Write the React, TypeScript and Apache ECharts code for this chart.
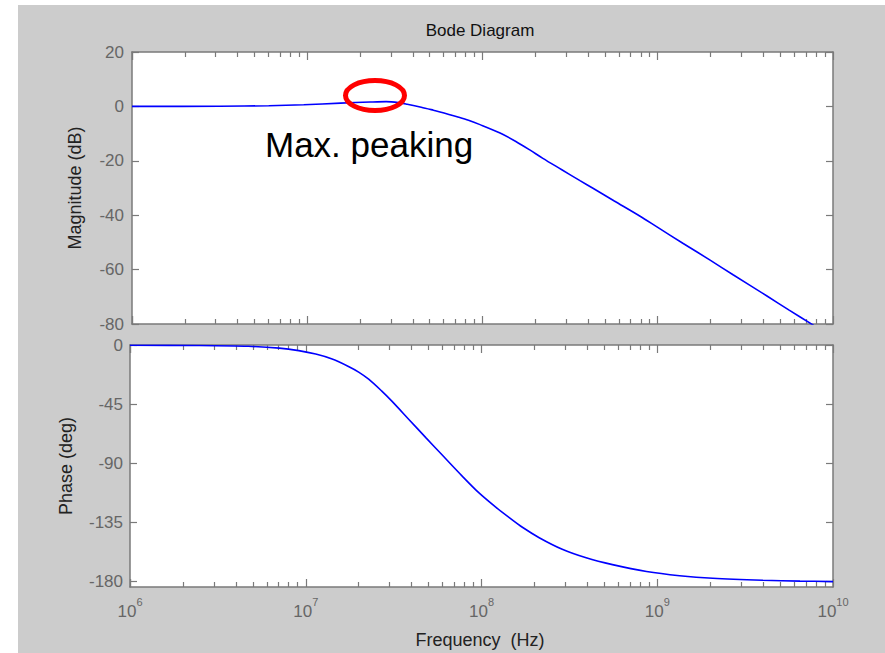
import React, { useEffect, useRef } from 'react';
import * as echarts from 'echarts';

// Magnitude (dB) vs frequency (Hz)
const magFreq = [
  1e6, 3.16e6, 6.03e6, 9.55e6, 1.55e7, 2.29e7, 2.82e7, 3.31e7, 3.72e7, 4.47e7,
  5.25e7, 5.96e7, 7.16e7, 8.32e7, 9.68e7, 1.26e8, 1.55e8, 1.87e8, 2.21e8, 2.82e8,
  3.6e8, 4.27e8, 5.62e8, 7.93e8, 1e9, 1.39e9, 2.0e9, 2.69e9, 4.2e9, 5.62e9, 7.76e9,
];
const magDb = [
  0, 0.05, 0.25, 0.6, 1.2, 1.6, 1.75, 1.4, 0.8, -0.3,
  -1.4, -2.3, -3.8, -5.1, -6.7, -9.8, -12.9, -16.1, -19.1, -23.2,
  -27.3, -30.1, -34.7, -40.4, -44.5, -50.3, -56.6, -61.9, -69.7, -74.9, -80.5,
];

// Phase (deg) vs frequency (Hz)
const phaseFreq = [
  1e6, 2.45e6, 4.71e6, 7.08e6, 9.12e6, 1.14e7, 1.4e7, 1.75e7, 2.0e7, 2.28e7,
  2.7e7, 3.08e7, 3.85e7, 4.82e7, 5.96e7, 7.74e7, 9.68e7, 1.21e8, 1.44e8, 1.7e8,
  2.13e8, 2.88e8, 3.94e8, 5.56e8, 8.69e8, 1.34e9, 2.07e9, 3.98e9, 6.49e9, 1e10,
];
const phaseDeg = [
  -0.2, -0.4, -1.0, -2.4, -4.3, -6.9, -10.5, -16.3, -20.6, -26.0,
  -34.9, -42.5, -56.4, -70.4, -83.5, -99.5, -112.5, -123.5, -131.3, -138.4,
  -146.5, -155.3, -161.8, -167.0, -172.2, -175.4, -177.4, -178.9, -179.5, -179.9,
];

const magTicks = [20, 0, -20, -40, -60, -80];
const phaseTicks = [0, -45, -90, -135, -180];

const FONT = '"Liberation Sans", Arial, Helvetica, sans-serif';
const AXC = '#7a7a7a';
const LBL = '#666666';

export default function App() {
  const ref = useRef<HTMLDivElement>(null);
  useEffect(() => {
    const chart = echarts.init(ref.current!, null, { renderer: 'svg', width: 885, height: 653 });

    const xAxis = (gridIndex: number, position: string, labels: boolean) => ({
      type: 'log',
      logBase: 10,
      gridIndex,
      position,
      min: 1e6,
      max: 1e10,
      axisLine: { show: true, onZero: false, lineStyle: { color: AXC, width: 1.5 } },
      axisTick: { show: true, inside: true, length: 8, lineStyle: { color: AXC, width: 1.2 } },
      minorTick: { show: true, splitNumber: 9, length: 5, lineStyle: { color: AXC, width: 1.2 } },
      splitLine: { show: false },
      minorSplitLine: { show: false },
      axisLabel: labels
        ? {
            show: true,
            margin: 9,
            showMinLabel: true,
            showMaxLabel: true,
            formatter: (v: number) => `{b|10}{s|${Math.round(Math.log10(v))}}`,
            rich: {
              b: { fontSize: 17, lineHeight: 30, color: LBL, fontFamily: FONT },
              s: { fontSize: 11, lineHeight: 8, color: LBL, fontFamily: FONT, verticalAlign: 'top' },
            },
          }
        : { show: false },
    });

    const yMag = (pos: string, labels: boolean) => ({
      type: 'value',
      gridIndex: 0,
      position: pos,
      min: -80,
      max: 20,
      interval: 20,
      axisLine: { show: true, onZero: false, lineStyle: { color: AXC, width: 1.5 } },
      axisTick: { show: true, inside: true, length: 7, customValues: magTicks, lineStyle: { color: AXC, width: 1.2 } },
      splitLine: { show: false },
      axisLabel: labels
        ? { show: true, margin: 8, customValues: magTicks, fontSize: 17, color: LBL, fontFamily: FONT }
        : { show: false },
    });

    const yPhase = (pos: string, labels: boolean) => ({
      type: 'value',
      gridIndex: 1,
      position: pos,
      min: -184,
      max: 0,
      axisLine: { show: true, onZero: false, lineStyle: { color: AXC, width: 1.5 } },
      axisTick: { show: true, inside: true, length: 7, customValues: phaseTicks, lineStyle: { color: AXC, width: 1.2 } },
      splitLine: { show: false },
      axisLabel: labels
        ? { show: true, margin: 7, customValues: phaseTicks, fontSize: 17, color: LBL, fontFamily: FONT }
        : { show: false },
    });

    const option = {
      animation: false,
      backgroundColor: '#ffffff',
      grid: [
        { left: 132, top: 52, width: 701, height: 272, show: true, backgroundColor: '#ffffff', borderWidth: 0 },
        { left: 130, top: 345, width: 703, height: 242, show: true, backgroundColor: '#ffffff', borderWidth: 0 },
      ],
      xAxis: [xAxis(0, 'bottom', false), xAxis(0, 'top', false), xAxis(1, 'bottom', true), xAxis(1, 'top', false)],
      yAxis: [yMag('left', true), yMag('right', false), yPhase('left', true), yPhase('right', false)],
      series: [
        {
          type: 'line',
          xAxisIndex: 0,
          yAxisIndex: 0,
          data: magFreq.map((f, i) => [f, magDb[i]]),
          showSymbol: false,
          smooth: 0.3,
          clip: true,
          lineStyle: { color: '#0000ff', width: 1.6 },
          z: 5,
        },
        {
          type: 'line',
          xAxisIndex: 2,
          yAxisIndex: 2,
          data: phaseFreq.map((f, i) => [f, phaseDeg[i]]),
          showSymbol: false,
          smooth: 0.3,
          clip: true,
          lineStyle: { color: '#0000ff', width: 1.6 },
          z: 5,
        },
      ],
      graphic: [
        { type: 'rect', z: -100, silent: true, shape: { x: 18, y: 5, width: 867, height: 648 }, style: { fill: '#cccccc' } },
        { type: 'text', x: 480, y: 30, z: 50, style: { text: 'Bode Diagram', fontSize: 17, fill: '#111111', align: 'center', verticalAlign: 'middle', fontFamily: FONT } },
        { type: 'text', x: 480, y: 640, z: 50, style: { text: 'Frequency  (Hz)', fontSize: 18, fill: '#222222', align: 'center', verticalAlign: 'middle', fontFamily: FONT } },
        { type: 'text', x: 75, y: 188, rotation: Math.PI / 2, z: 50, style: { text: 'Magnitude (dB)', fontSize: 18, fill: '#222222', align: 'center', verticalAlign: 'middle', fontFamily: FONT } },
        { type: 'text', x: 66, y: 466, rotation: Math.PI / 2, z: 50, style: { text: 'Phase (deg)', fontSize: 18, fill: '#222222', align: 'center', verticalAlign: 'middle', fontFamily: FONT } },
        { type: 'text', x: 265, y: 144, z: 60, style: { text: 'Max. peaking', fontSize: 35, fill: '#000000', align: 'left', verticalAlign: 'middle', fontFamily: FONT } },
        { type: 'ellipse', z: 60, shape: { cx: 375, cy: 95.5, rx: 29.5, ry: 15 }, style: { fill: 'none', stroke: '#ff0000', lineWidth: 5 } },
      ],
    };

    chart.setOption(option as any);
    return () => chart.dispose();
  }, []);
  return <div ref={ref} style={{ position: 'fixed', left: 0, top: 0, width: 885, height: 653 }} />;
}
